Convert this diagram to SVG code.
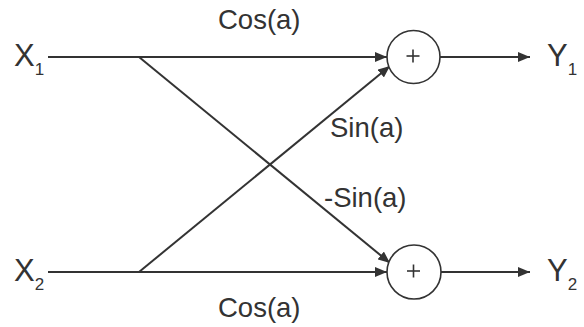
<svg xmlns="http://www.w3.org/2000/svg" width="584" height="327" viewBox="0 0 584 327">
<style>
text { font-family: "Liberation Sans", Arial, sans-serif; fill: #333; }
.lbl { font-size: 27.5px; }
.var { font-size: 31px; }
.sub { font-size: 17px; }
.ln { stroke: #333; stroke-width: 2; fill: none; }
.sum { stroke: #333; stroke-width: 1.6; fill: #fff; }
.plus { stroke: #333; stroke-width: 1.6; }
</style>
<defs>
<marker id="arr" viewBox="0 0 12 10" refX="12" refY="5" markerWidth="12" markerHeight="10" markerUnits="userSpaceOnUse" orient="auto">
<path d="M0,0 L12,5 L0,10 Z" fill="#333"/>
</marker>
</defs>
<rect width="584" height="327" fill="#fff"/>
<g id="connectors">
<line class="ln" x1="48" y1="57" x2="387" y2="57" marker-end="url(#arr)"/>
<line class="ln" x1="48" y1="272" x2="387" y2="272" marker-end="url(#arr)"/>
<line class="ln" x1="139" y1="57" x2="390" y2="263" marker-end="url(#arr)"/>
<line class="ln" x1="139" y1="272" x2="390" y2="66" marker-end="url(#arr)"/>
<line class="ln" x1="440" y1="57" x2="530" y2="57" marker-end="url(#arr)"/>
<line class="ln" x1="441" y1="272" x2="530" y2="272" marker-end="url(#arr)"/>
</g>
<g id="x1"><text class="var" x="14" y="66">X<tspan class="sub" dy="9">1</tspan></text></g>
<g id="x2"><text class="var" x="14" y="281">X<tspan class="sub" dy="9">2</tspan></text></g>
<g id="sum1">
<circle class="sum" cx="413.5" cy="57" r="26.5"/>
<line class="plus" x1="406.5" y1="56" x2="419.5" y2="56"/>
<line class="plus" x1="413" y1="49.5" x2="413" y2="62.5"/>
</g>
<g id="sum2">
<circle class="sum" cx="414" cy="272" r="27"/>
<line class="plus" x1="407" y1="271" x2="420" y2="271"/>
<line class="plus" x1="413.5" y1="264.5" x2="413.5" y2="277.5"/>
</g>
<g id="y1"><text class="var" x="547" y="66">Y<tspan class="sub" dy="9">1</tspan></text></g>
<g id="y2"><text class="var" x="547" y="281">Y<tspan class="sub" dy="9">2</tspan></text></g>
<g id="labels">
<text class="lbl" x="218" y="29">Cos(a)</text>
<text class="lbl" x="330" y="137">Sin(a)</text>
<text class="lbl" x="324" y="207">-Sin(a)</text>
<text class="lbl" x="218" y="317">Cos(a)</text>
</g>
</svg>
